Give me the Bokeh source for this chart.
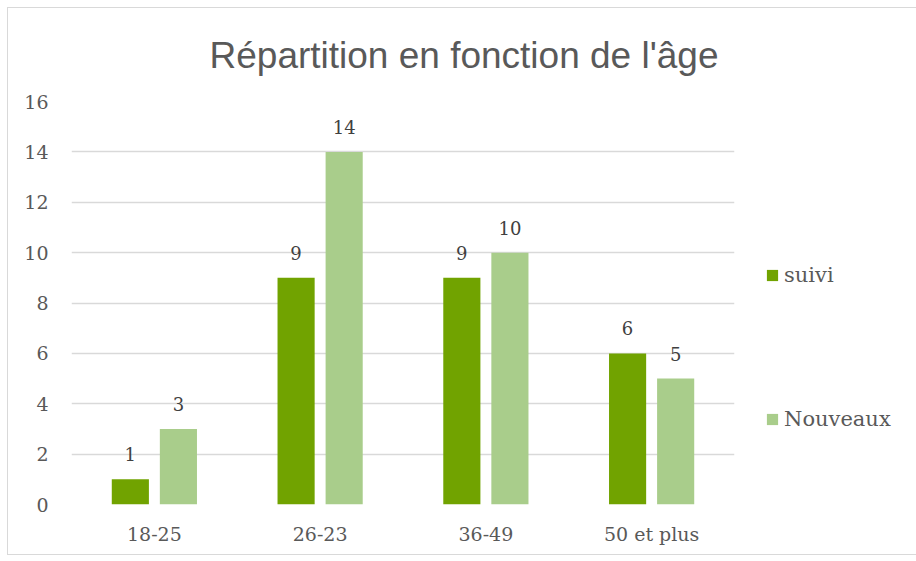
from bokeh.plotting import figure
from bokeh.models import ColumnDataSource, Legend, LegendItem, Title, FactorRange
from bokeh.transform import dodge
from bokeh.core.properties import value
from bokeh.embed import file_html
from bokeh.resources import INLINE

categories = ["18-25", "26-23", "36-49", "50 et plus"]
suivi = [1, 9, 9, 6]
nouveaux = [3, 14, 10, 5]
y_ticks = [0, 2, 4, 6, 8, 10, 12, 14, 16]
title_text = "Répartition en fonction de l'âge"

src = ColumnDataSource(dict(cat=categories, suivi=suivi, nouveaux=nouveaux,
                            suivi_lbl=[str(v) for v in suivi],
                            nouveaux_lbl=[str(v) for v in nouveaux]))

p = figure(x_range=FactorRange(*categories), y_range=(0, 16),
           frame_width=663, frame_height=403,
           min_border_left=63, min_border_right=175, min_border_top=93, min_border_bottom=50,
           output_backend="svg", toolbar_location=None, title=None)
p.styles = {"border": "1px solid #d9d9d9", "margin-left": "7px", "margin-top": "7px"}
p.outline_line_color = None

dark = "#71A300"
light = "#A9CD8B"
r1 = p.vbar(x=dodge("cat", -0.145, range=p.x_range), top="suivi", width=0.224,
            source=src, fill_color=dark, line_color=None)
r2 = p.vbar(x=dodge("cat", 0.145, range=p.x_range), top="nouveaux", width=0.224,
            source=src, fill_color=light, line_color=None)

lbl_font = value("DejaVu Serif")
p.text(x=dodge("cat", -0.145, range=p.x_range), y="suivi", text="suivi_lbl", source=src,
       text_align="center", text_baseline="middle", y_offset=-25,
       text_font=lbl_font, text_font_size="18px", text_color="#404040")
p.text(x=dodge("cat", 0.145, range=p.x_range), y="nouveaux", text="nouveaux_lbl", source=src,
       text_align="center", text_baseline="middle", y_offset=-25,
       text_font=lbl_font, text_font_size="18px", text_color="#404040")

p.xgrid.grid_line_color = None
p.ygrid.grid_line_color = "#d9d9d9"
p.ygrid.grid_line_width = 1.5
p.yaxis.ticker = y_ticks
for ax in (p.xaxis, p.yaxis):
    ax.axis_line_color = None
    ax.major_tick_line_color = None
    ax.minor_tick_line_color = None
    ax.major_label_text_font = "DejaVu Serif"
    ax.major_label_text_font_size = "19px"
    ax.major_label_text_color = "#595959"
p.xaxis.major_label_standoff = 12
p.yaxis.major_label_standoff = 17

t = Title(text=title_text, align="left", offset=138, standoff=47, vertical_align="top",
          text_font="Liberation Sans", text_font_size="37px",
          text_font_style="normal", text_color="#595959")
p.add_layout(t, "above")

legend = Legend(items=[LegendItem(label="suivi", renderers=[r1]),
                       LegendItem(label="Nouveaux", renderers=[r2])],
                location=(31, 73), orientation="vertical", spacing=120,
                label_text_font="DejaVu Serif", label_text_font_size="21px",
                label_text_color="#595959", glyph_width=14, glyph_height=14,
                label_standoff=5, border_line_color=None, background_fill_alpha=0)
p.add_layout(legend, "right")

open("out.html", "w").write(file_html(p, INLINE))
